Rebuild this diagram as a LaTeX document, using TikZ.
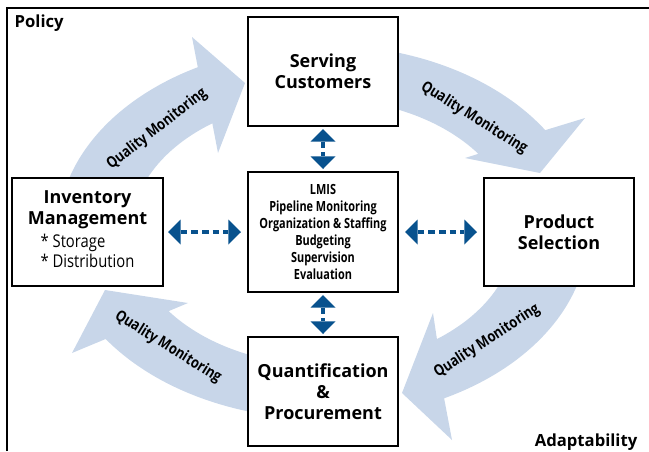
\documentclass[tikz,border=0pt]{standalone}
\usepackage{fontspec}
\setmainfont{Open Sans}
\newfontfamily\condfont{Open Sans}[FakeStretch=0.78]
\newfontfamily\semicond{Open Sans}[FakeStretch=0.84]
\usetikzlibrary{arrows.meta, calc}

\definecolor{bandblue}{RGB}{200,214,233}
\definecolor{linkblue}{RGB}{8,82,142}

\tikzset{
  box/.style={draw, line width=1.5pt, fill=white, inner sep=0pt, align=center},
  title/.style={font=\bfseries\fontsize{13.5}{15.75}\selectfont},
  corner/.style={font=\bfseries\fontsize{12.5}{15}\selectfont},
  band/.style={fill=bandblue},
  bandlabel/.style={font=\semicond\bfseries\fontsize{11.5}{13}\selectfont},
  linktip/.tip={Triangle[width=18.75pt, length=9.5pt, line width=0pt]},
  link/.style={linktip-linktip, draw=linkblue, line width=2.6pt, dash pattern=on 5pt off 3pt}
}

\begin{document}
\begin{tikzpicture}[x=0.75pt, y=-0.75pt]
\useasboundingbox (0,0) rectangle (649,451);
\coordinate (C) at (323,232);
% frame
\draw[line width=0.8pt] (7,451) -- (7,8) -- (649,8);

% quality monitoring bands
\fill[band] (C) ++(180:265 and 187) arc[start angle=180, end angle=241.8, x radius=265, y radius=187]
  -- (192,37) -- (245,83) -- (218,153) -- ($(C)+(234.8:192 and 133)$)
  arc[start angle=234.8, end angle=180, x radius=192, y radius=133] -- cycle;
\fill[band] (C) ++(270:265 and 187) arc[start angle=270, end angle=327, x radius=265, y radius=187]
  -- (585,118) -- (540,173) -- (465,158) -- ($(C)+(324:192 and 133)$)
  arc[start angle=324, end angle=270, x radius=192, y radius=133] -- cycle;
\fill[band] (C) ++(0:265 and 187) arc[start angle=0, end angle=62.8, x radius=265, y radius=187]
  -- (452,440) -- (402,393) -- (433,313) -- ($(C)+(53.6:192 and 133)$)
  arc[start angle=53.6, end angle=0, x radius=192, y radius=133] -- cycle;
\fill[band] (C) ++(90:265 and 187) arc[start angle=90, end angle=145.1, x radius=265, y radius=187]
  -- (72,353) -- (105,290) -- (188,303) -- ($(C)+(143.5:192 and 133)$)
  arc[start angle=143.5, end angle=90, x radius=192, y radius=133] -- cycle;

\node[bandlabel, rotate=38] (qm1) at (157,129) {Quality Monitoring};
\node[bandlabel, rotate=-32] (qm2) at (474,118) {Quality Monitoring};
\node[bandlabel, rotate=33] (qm3) at (487,341) {Quality Monitoring};
\node[bandlabel, rotate=-32] (qm4) at (168,347) {Quality Monitoring};

% boxes
\node[box, title, minimum width=112.5pt, minimum height=81.75pt] (serve) at (323,71.5) {Serving\\Customers};
\node[box, minimum width=112.5pt, minimum height=90pt,
  font=\condfont\bfseries\fontsize{10.5}{12.75}\selectfont] (core) at (323,232)
  {LMIS\\Pipeline Monitoring\\Organization \& Staffing\\Budgeting\\Supervision\\Evaluation};
\node[box, title, minimum width=113.25pt, minimum height=81pt] (invent) at (87.5,232)
  {Inventory\\Management\\[1pt]{\semicond\mdseries\fontsize{13.2}{15}\selectfont
   \begin{tabular}[t]{@{}l@{}}* Storage\\\relax * Distribution\end{tabular}}};
\node[box, title, minimum width=112.5pt, minimum height=81pt] (select) at (559,232) {Product\\Selection};
\node[box, title, minimum width=112.5pt, minimum height=81.75pt] (quant) at (323,391.5)
  {Quantification\\\&\\Procurement};

% links to the core
\draw[link, shorten <=1.5pt, shorten >=1.5pt] (serve.south) -- (core.north);
\draw[link, shorten <=1.5pt, shorten >=1.5pt] (core.south) -- (quant.north);
\draw[link, shorten <=3pt, shorten >=4.5pt] (invent.east) -- (core.west);
\draw[link, shorten <=4.5pt, shorten >=4.5pt] (core.east) -- (select.west);

\node[corner, anchor=base west] (policy) at (10,27) {Policy};
\node[corner, anchor=base east] (adapt) at (642,446) {Adaptability};
\end{tikzpicture}
\end{document}
